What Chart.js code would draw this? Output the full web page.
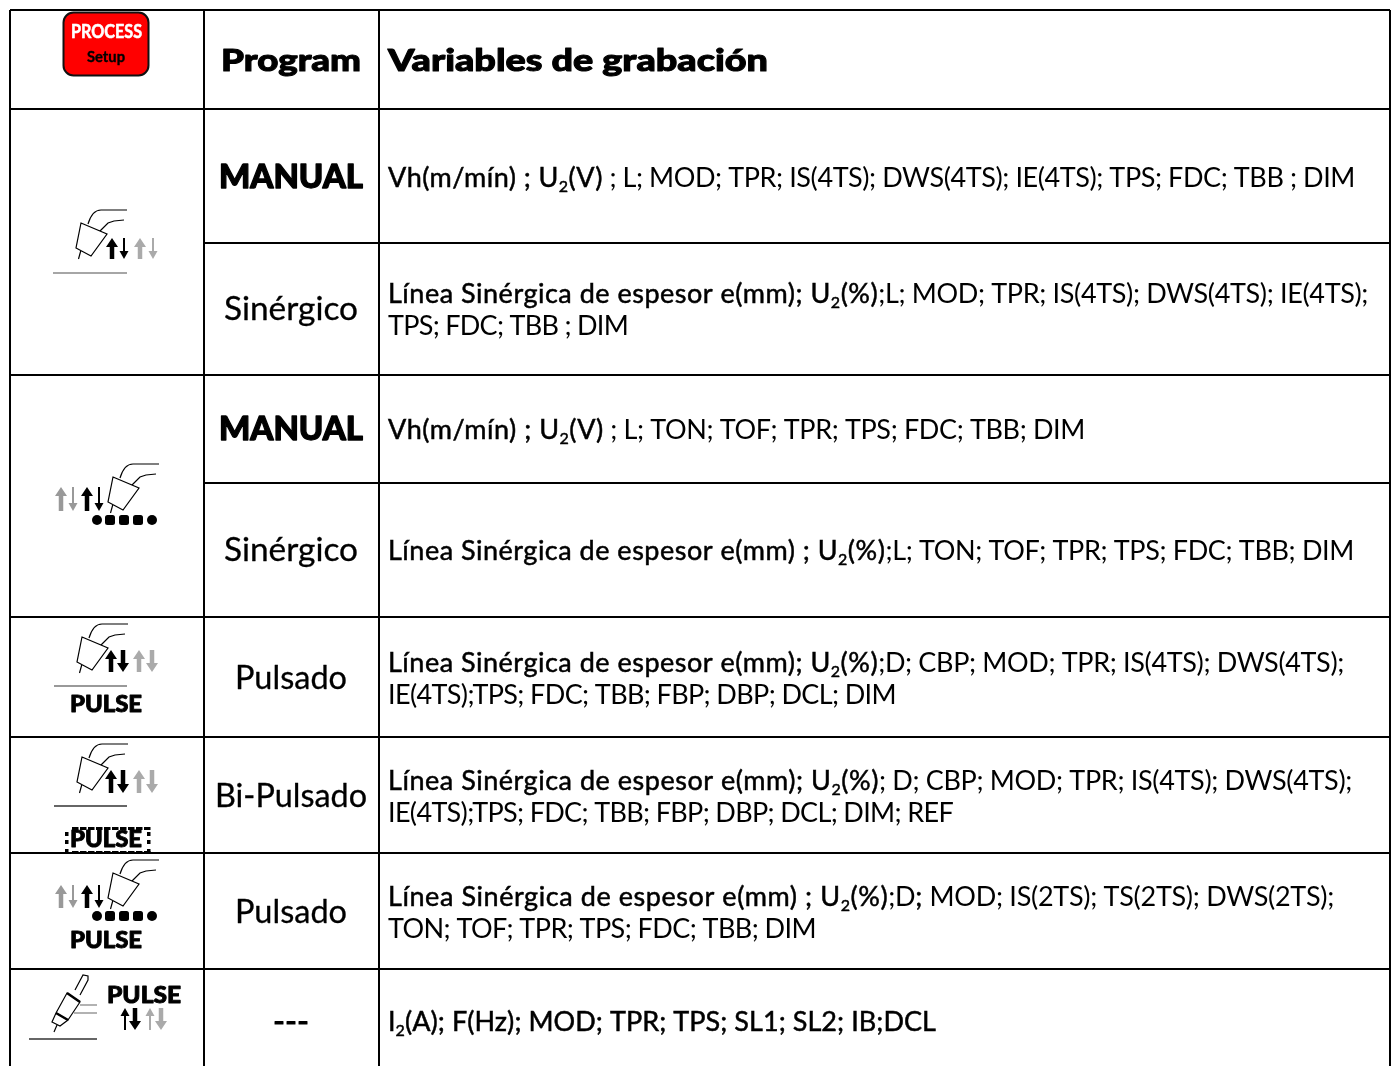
<!DOCTYPE html>
<html>
<head>
<meta charset="utf-8">
<title>Variables de grabación</title>
<script src="https://cdn.jsdelivr.net/npm/chart.js@4/dist/chart.umd.min.js"></script>
<style>
  html, body { margin: 0; padding: 0; background: #fff; overflow: hidden; }
  canvas { display: block; }
</style>
</head>
<body>
<canvas id="tableChart" width="1393" height="1066"></canvas>
<script>
// table grid
const colEdges = [10, 204, 379, 1390];
const rowEdges = [10, 109, 243, 375, 483, 617, 737, 853, 969];
const partialRows = [243, 483]; // these only span the two right columns

const headers = ['Program', 'Variables de grabación'];
const programLabels = ['MANUAL', 'Sinérgico', 'MANUAL', 'Sinérgico', 'Pulsado', 'Bi-Pulsado', 'Pulsado', '---'];
const programBaselines = [188, 320, 440, 561, 689, 807, 923, 1033];
const programWidths = [144, 134, 144, 134, 112, 152, 112, 36];

// * toggles the heavier weight, _ marks a subscript character
const variableLines = [
  '*Vh(m/mín) ; U_2(V)* ; L; MOD; TPR; IS(4TS); DWS(4TS); IE(4TS); TPS; FDC; TBB ; DIM',
  '*Línea Sinérgica de espesor e(mm); U_2(%)*;L; MOD; TPR; IS(4TS); DWS(4TS); IE(4TS);',
  'TPS; FDC; TBB ; DIM',
  '*Vh(m/mín) ; U_2(V)* ; L; TON; TOF; TPR; TPS; FDC; TBB; DIM',
  '*Línea Sinérgica de espesor e(mm) ; U_2(%)*;L; TON; TOF; TPR; TPS; FDC; TBB; DIM',
  '*Línea Sinérgica de espesor e(mm); U_2(%)*;D; CBP; MOD; TPR; IS(4TS); DWS(4TS);',
  'IE(4TS);TPS; FDC; TBB; FBP; DBP; DCL; DIM',
  '*Línea Sinérgica de espesor e(mm); U_2(%)*; D; CBP; MOD; TPR; IS(4TS); DWS(4TS);',
  'IE(4TS);TPS; FDC; TBB; FBP; DBP; DCL; DIM; REF',
  '*Línea Sinérgica de espesor e(mm) ; U_2(%)*;D*;* MOD; IS(2TS); TS(2TS); DWS(2TS);',
  'TON; TOF; TPR; TPS; FDC; TBB; DIM',
  '*I_2(A); F(Hz); MOD; TPR; TPS; SL1; SL2; IB;DCL*'
];
const variableBaselines = [187, 303, 335, 439, 560, 672, 704, 790, 822, 906, 938, 1031];
const variableEnds = [1355, 1368, 628, 1085, 1354, 1344, 896, 1352, 953, 1334, 816, 936];

// rules as one line dataset with gaps
const rulePoints = [];
const bottom = 1066;
rowEdges.forEach(y => {
  const from = partialRows.includes(y) ? colEdges[1] : colEdges[0];
  rulePoints.push({x: from, y: y}, {x: colEdges[3], y: y}, {x: NaN, y: NaN});
});
colEdges.forEach(x => {
  rulePoints.push({x: x, y: rowEdges[0]}, {x: x, y: bottom}, {x: NaN, y: NaN});
});

const BODY = '"Lato", sans-serif';

function parseRuns(line) {
  const runs = [];
  let heavy = false, buf = '';
  const flush = () => { if (buf) runs.push({t: buf, heavy: heavy, sub: false}); buf = ''; };
  for (let i = 0; i < line.length; i++) {
    const c = line[i];
    if (c === '*') { flush(); heavy = !heavy; }
    else if (c === '_') { flush(); i++; runs.push({t: line[i], heavy: heavy, sub: true}); }
    else buf += c;
  }
  flush();
  return runs;
}

function drawRich(ctx, line, x, y, end) {
  const runs = parseRuns(line);
  const size = 27, subSize = 16;
  const heavyExtra = 0.85; // the heavier runs sit wider in the original
  ctx.letterSpacing = '0px';
  let natural = 0, chars = 0, heavyChars = 0;
  runs.forEach(r => {
    ctx.font = (r.sub ? subSize : size) + 'px ' + BODY;
    natural += ctx.measureText(r.t).width;
    chars += r.t.length;
    if (r.heavy) heavyChars += r.t.length;
  });
  const spacing = (end - x - natural - heavyChars * heavyExtra) / chars;
  ctx.fillStyle = '#000';
  ctx.strokeStyle = '#000';
  ctx.lineWidth = 0.5;
  ctx.textAlign = 'left';
  let cx = x;
  runs.forEach(r => {
    ctx.font = (r.sub ? subSize : size) + 'px ' + BODY;
    ctx.letterSpacing = (spacing + (r.heavy ? heavyExtra : 0)).toFixed(3) + 'px';
    const by = r.sub ? y + 5 : y;
    ctx.fillText(r.t, cx, by);
    if (r.heavy) ctx.strokeText(r.t, cx, by);
    cx += ctx.measureText(r.t).width;
  });
  ctx.letterSpacing = '0px';
}

// stretches the text horizontally to the given width, optionally thickened
function drawFit(ctx, text, x, y, width, font, color, thick) {
  ctx.font = font;
  ctx.letterSpacing = '0px';
  ctx.textAlign = 'left';
  const natural = ctx.measureText(text).width;
  ctx.save();
  ctx.translate(x, y);
  ctx.scale(width / natural, 1);
  ctx.fillStyle = color || '#000';
  ctx.fillText(text, 0, 0);
  if (thick) {
    ctx.strokeStyle = color || '#000';
    ctx.lineWidth = thick;
    ctx.lineJoin = 'round';
    ctx.strokeText(text, 0, 0);
  }
  ctx.restore();
}

function arrow(ctx, x, top, low, up, thick, color) {
  const w = thick ? 4.5 : 2;
  const head = thick ? 6 : 4.5;
  const tipLen = thick ? 9 : 8;
  ctx.fillStyle = color;
  ctx.beginPath();
  if (up) {
    ctx.moveTo(x, top); ctx.lineTo(x + head, top + tipLen); ctx.lineTo(x + w / 2, top + tipLen);
    ctx.lineTo(x + w / 2, low); ctx.lineTo(x - w / 2, low); ctx.lineTo(x - w / 2, top + tipLen);
    ctx.lineTo(x - head, top + tipLen);
  } else {
    ctx.moveTo(x, low); ctx.lineTo(x + head, low - tipLen); ctx.lineTo(x + w / 2, low - tipLen);
    ctx.lineTo(x + w / 2, top); ctx.lineTo(x - w / 2, top); ctx.lineTo(x - w / 2, low - tipLen);
    ctx.lineTo(x - head, low - tipLen);
  }
  ctx.closePath();
  ctx.fill();
}

function arrows(ctx, xs, top, low, thickDown, upThick) {
  arrow(ctx, xs[0], top, low, true, upThick, '#000');
  arrow(ctx, xs[1], top, low, false, thickDown, '#000');
  arrow(ctx, xs[2], top, low, true, upThick, '#aaa');
  arrow(ctx, xs[3], top, low, false, thickDown, '#aaa');
}

function torch(ctx, dx, dy) {
  ctx.save();
  ctx.translate(dx, dy);
  ctx.strokeStyle = '#000';
  ctx.lineWidth = 1.2;
  ctx.beginPath();
  ctx.moveTo(81, 223); ctx.lineTo(107, 234); ctx.lineTo(91, 256); ctx.lineTo(76, 248); ctx.closePath();
  ctx.moveTo(81, 250); ctx.lineTo(78.5, 259);
  ctx.moveTo(88, 224); ctx.bezierCurveTo(91, 214, 95, 210, 101, 210); ctx.lineTo(127, 210);
  ctx.moveTo(100, 231); ctx.lineTo(108, 223); ctx.lineTo(114, 221); ctx.lineTo(124, 220);
  ctx.stroke();
  ctx.restore();
}

function ground(ctx, a, b, y, color) {
  ctx.strokeStyle = color;
  ctx.lineWidth = 1.4;
  ctx.beginPath(); ctx.moveTo(a, y); ctx.lineTo(b, y); ctx.stroke();
}

function beads(ctx, y) {
  ctx.fillStyle = '#000';
  [97, 110, 124, 138, 152].forEach((x, i) => {
    ctx.beginPath();
    ctx.roundRect(x - 5, y - 5, 10, 10, i === 0 || i === 4 ? 5 : 2.5);
    ctx.fill();
  });
}

function pulseWord(ctx, x, y, width) {
  drawFit(ctx, 'PULSE', x, y, width, '900 23px ' + BODY, '#000', 0.9);
}

function drawIcons(ctx) {
  // PROCESS button
  ctx.beginPath();
  ctx.roundRect(63.5, 12.5, 85, 63, 10);
  ctx.fillStyle = '#f00';
  ctx.fill();
  ctx.strokeStyle = '#111';
  ctx.lineWidth = 2;
  ctx.stroke();
  drawFit(ctx, 'PROCESS', 71, 38, 71, '700 19px ' + BODY, '#fff', 0.6);
  drawFit(ctx, 'Setup', 87, 62, 38, '700 16px ' + BODY, '#000', 0.4);

  // short-circuit row
  torch(ctx, 0, 0);
  arrows(ctx, [112, 124, 140, 153], 238, 259, false, true);
  ground(ctx, 53, 127, 273, '#888');

  // spray row
  torch(ctx, 32, 254);
  arrow(ctx, 61, 487, 511, true, true, '#999');
  arrow(ctx, 73, 487, 511, false, false, '#999');
  arrow(ctx, 87, 487, 511, true, true, '#000');
  arrow(ctx, 99, 487, 511, false, false, '#000');
  beads(ctx, 520);

  // pulsed
  torch(ctx, 1, 414);
  arrows(ctx, [111, 123, 139, 152], 650, 672, true, true);
  ground(ctx, 54, 127, 686, '#777');
  pulseWord(ctx, 70, 712, 72);

  // bi-pulsed
  torch(ctx, 1, 534);
  arrows(ctx, [111, 123, 139, 152], 770, 793, true, true);
  ground(ctx, 54, 127, 806, '#333');
  pulseWord(ctx, 70, 847, 72);
  ctx.fillStyle = '#000';
  [827, 851].forEach(y => {
    for (let x = 72; x < 146; x += 8) ctx.fillRect(x, y, 6.5, 3);
  });
  [65, 147].forEach(x => {
    [832, 840, 849].forEach(y => ctx.fillRect(x, y, 3.5, 4));
  });

  // spray pulsed
  torch(ctx, 32, 650);
  arrow(ctx, 61, 885, 908, true, true, '#999');
  arrow(ctx, 73, 885, 908, false, false, '#999');
  arrow(ctx, 87, 885, 908, true, true, '#000');
  arrow(ctx, 99, 885, 908, false, false, '#000');
  beads(ctx, 916);
  pulseWord(ctx, 70, 948, 72);

  // manual electrode torch
  ctx.strokeStyle = '#000';
  ctx.lineWidth = 1.2;
  ctx.beginPath();
  ctx.moveTo(57, 1025); ctx.lineTo(54, 1032);
  ctx.moveTo(56, 1013); ctx.lineTo(68, 1020); ctx.lineTo(60, 1026); ctx.lineTo(52, 1022); ctx.closePath();
  ctx.moveTo(56, 1013); ctx.lineTo(67, 993); ctx.lineTo(80, 1002); ctx.lineTo(68, 1020);
  ctx.moveTo(75, 990); ctx.lineTo(83, 975); ctx.lineTo(88, 976); ctx.lineTo(88, 980); ctx.lineTo(80, 995);
  ctx.stroke();
  ctx.lineWidth = 2.5;
  ctx.beginPath();
  ctx.moveTo(67, 993); ctx.lineTo(80, 1002);
  ctx.moveTo(56, 1013); ctx.lineTo(68, 1020);
  ctx.stroke();
  ctx.strokeStyle = '#666';
  ctx.lineWidth = 1.2;
  ctx.beginPath();
  ctx.moveTo(80, 1005); ctx.lineTo(97, 1005);
  ctx.moveTo(74, 1013); ctx.lineTo(97, 1013);
  ctx.stroke();
  ground(ctx, 29, 97, 1039, '#333');
  pulseWord(ctx, 107, 1003, 74);
  arrows(ctx, [125, 135, 150, 161], 1008, 1030, true, false);
}

const tableText = {
  id: 'tableText',
  afterDatasetsDraw(chart) {
    const ctx = chart.ctx;
    const sx = chart.scales.x, sy = chart.scales.y;
    ctx.save();
    ctx.textBaseline = 'alphabetic';
    drawIcons(ctx);

    drawFit(ctx, headers[0], sx.getPixelForValue(221), sy.getPixelForValue(71), 140, '900 31px ' + BODY, '#000', 1);
    drawFit(ctx, headers[1], sx.getPixelForValue(388), sy.getPixelForValue(71), 380, '900 31px ' + BODY, '#000', 1);

    programLabels.forEach((label, i) => {
      const heavy = label === 'MANUAL';
      const w = programWidths[i];
      const left = (colEdges[1] + colEdges[2]) / 2 - w / 2 - 0.5;
      const font = heavy ? '900 33px ' + BODY : '32px ' + BODY;
      const thick = heavy ? 1.3 : (label === '---' ? 1 : 0.3);
      drawFit(ctx, label, sx.getPixelForValue(left), sy.getPixelForValue(programBaselines[i]), w, font, '#000', thick);
    });

    variableLines.forEach((line, i) => {
      drawRich(ctx, line, sx.getPixelForValue(388), sy.getPixelForValue(variableBaselines[i]), sx.getPixelForValue(variableEnds[i]));
    });
    ctx.restore();
  }
};

new Chart(document.getElementById('tableChart'), {
  type: 'scatter',
  data: {
    datasets: [{
      label: 'rules',
      data: rulePoints,
      showLine: true,
      spanGaps: false,
      borderColor: '#000',
      borderWidth: 2,
      pointRadius: 0,
      clip: false
    }]
  },
  options: {
    responsive: false,
    animation: false,
    layout: { padding: 0 },
    plugins: { legend: { display: false }, tooltip: { enabled: false } },
    scales: {
      x: { type: 'linear', min: 0, max: 1393, display: false },
      y: { type: 'linear', min: 0, max: 1066, reverse: true, display: false }
    }
  },
  plugins: [tableText]
});
</script>
</body>
</html>
